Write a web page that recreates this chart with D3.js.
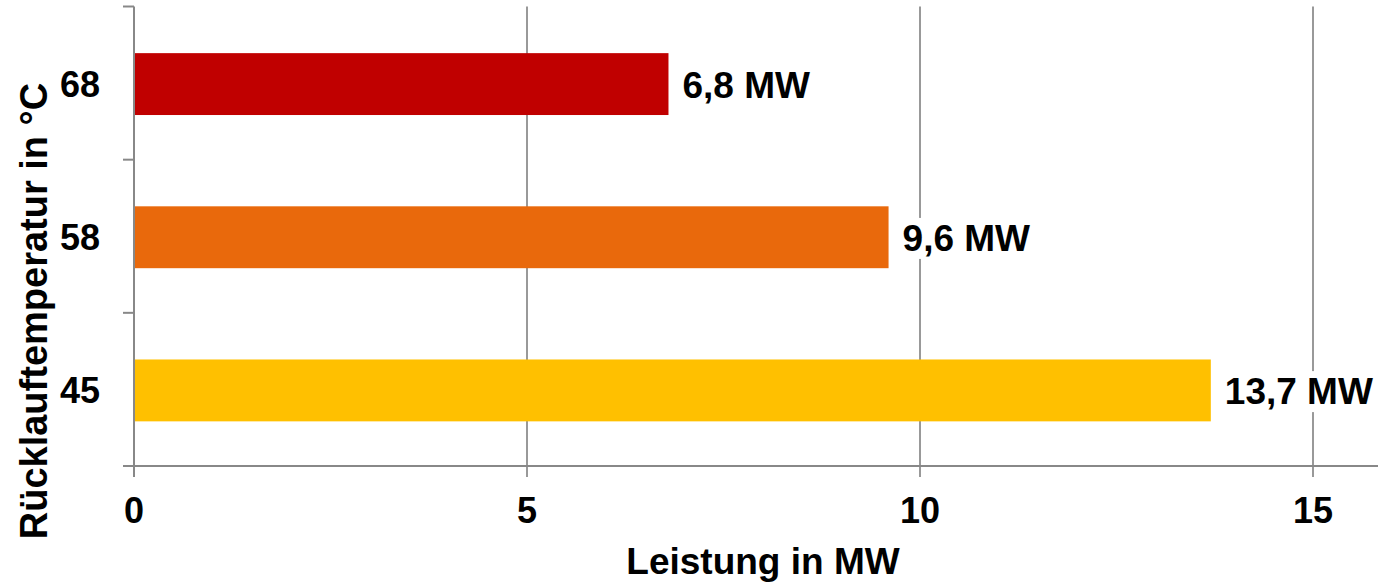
<!DOCTYPE html>
<html>
<head>
<meta charset="utf-8">
<script src="https://cdn.jsdelivr.net/npm/d3@7"></script>
<style>
  body { margin: 0; background: white; }
  text { font-family: "Liberation Sans", Arial, sans-serif; font-weight: bold; fill: black; }
</style>
</head>
<body>
<div id="visualisationDiv" style="width:1378px;height:582px"></div>
<script>
// Rücklauftemperatur (°C) und Leistung (MW)
var categories = ["68", "58", "45"];
var values = [6.8, 9.6, 13.7];
var labels = ["6,8 MW", "9,6 MW", "13,7 MW"];
var barColours = ["#C00000", "#E9690C", "#FFC000"];
var xTicks = [0, 5, 10, 15];

function makeVisualisation() {
  var width = 1378, height = 582;
  var left = 134, right = 1313, top = 6.5, bottom = 466;

  var svg = d3.select("#visualisationDiv").append("svg")
    .attr("width", width)
    .attr("height", height);

  var x = d3.scaleLinear().domain([0, 15]).range([left, right]);
  var y = d3.scaleBand()
    .domain(categories)
    .range([top, bottom])
    .paddingInner(0.596)
    .paddingOuter(0.298);

  // vertical gridlines
  svg.append("g")
    .selectAll("line")
    .data(xTicks.slice(1))
    .enter()
    .append("line")
      .attr("x1", function(d) { return x(d); })
      .attr("x2", function(d) { return x(d); })
      .attr("y1", top)
      .attr("y2", bottom + 11)
      .attr("stroke", "#999")
      .attr("stroke-width", 2);

  // bars
  svg.append("g")
    .selectAll("rect")
    .data(values)
    .enter()
    .append("rect")
      .attr("x", x(0) + 1)
      .attr("y", function(d, i) { return y(categories[i]) + 1; })
      .attr("width", function(d) { return x(d) - x(0) - 1; })
      .attr("height", y.bandwidth())
      .attr("fill", function(d, i) { return barColours[i]; });

  // value labels with white backing
  var lab = svg.append("g")
    .selectAll("g")
    .data(values)
    .enter()
    .append("g")
      .attr("transform", function(d, i) {
        return "translate(" + (x(d) + 14) + "," + (y(categories[i]) + y.bandwidth() / 2 + 1) + ")";
      });
  lab.append("text")
    .attr("dy", "0.37em")
    .style("font-size", "37px")
    .text(function(d, i) { return labels[i]; });
  lab.insert("rect", "text")
    .each(function() {
      var bb = this.parentNode.querySelector("text").getBBox();
      d3.select(this)
        .attr("x", bb.x - 2).attr("y", bb.y)
        .attr("width", bb.width + 4).attr("height", bb.height)
        .attr("fill", "white");
    });

  // y axis
  var yEdges = categories.map(function(c) { return y(c) - y.step() * y.paddingOuter(); });
  yEdges.push(bottom);
  svg.append("line")
    .attr("x1", left).attr("x2", left)
    .attr("y1", top).attr("y2", bottom + 11)
    .attr("stroke", "#888").attr("stroke-width", 2);
  svg.append("g")
    .selectAll("line")
    .data(yEdges)
    .enter()
    .append("line")
      .attr("x1", left - 11).attr("x2", left)
      .attr("y1", function(d) { return d; })
      .attr("y2", function(d) { return d; })
      .attr("stroke", "#888").attr("stroke-width", 2);
  svg.append("g")
    .selectAll("text")
    .data(categories)
    .enter()
    .append("text")
      .attr("x", 100)
      .attr("y", function(d) { return y(d) + y.bandwidth() / 2 + 1; })
      .attr("dy", "0.36em")
      .attr("text-anchor", "end")
      .style("font-size", "36px")
      .text(function(d) { return d; });

  // x axis
  svg.append("line")
    .attr("x1", left - 11).attr("x2", width)
    .attr("y1", bottom).attr("y2", bottom)
    .attr("stroke", "#888").attr("stroke-width", 2);
  svg.append("line")
    .attr("x1", left).attr("x2", left)
    .attr("y1", bottom).attr("y2", bottom + 11)
    .attr("stroke", "#888").attr("stroke-width", 2);
  svg.append("g")
    .selectAll("text")
    .data(xTicks)
    .enter()
    .append("text")
      .attr("x", function(d) { return x(d); })
      .attr("y", 523)
      .attr("text-anchor", "middle")
      .style("font-size", "36px")
      .text(function(d) { return d; });

  // axis titles
  svg.append("text")
    .attr("x", 763).attr("y", 574)
    .attr("text-anchor", "middle")
    .style("font-size", "37px")
    .text("Leistung in MW");
  svg.append("text")
    .attr("transform", "translate(47,311) rotate(-90)")
    .attr("text-anchor", "middle")
    .style("font-size", "38px")
    .text("Rücklauftemperatur in °C");
}
makeVisualisation();
</script>
</body>
</html>
